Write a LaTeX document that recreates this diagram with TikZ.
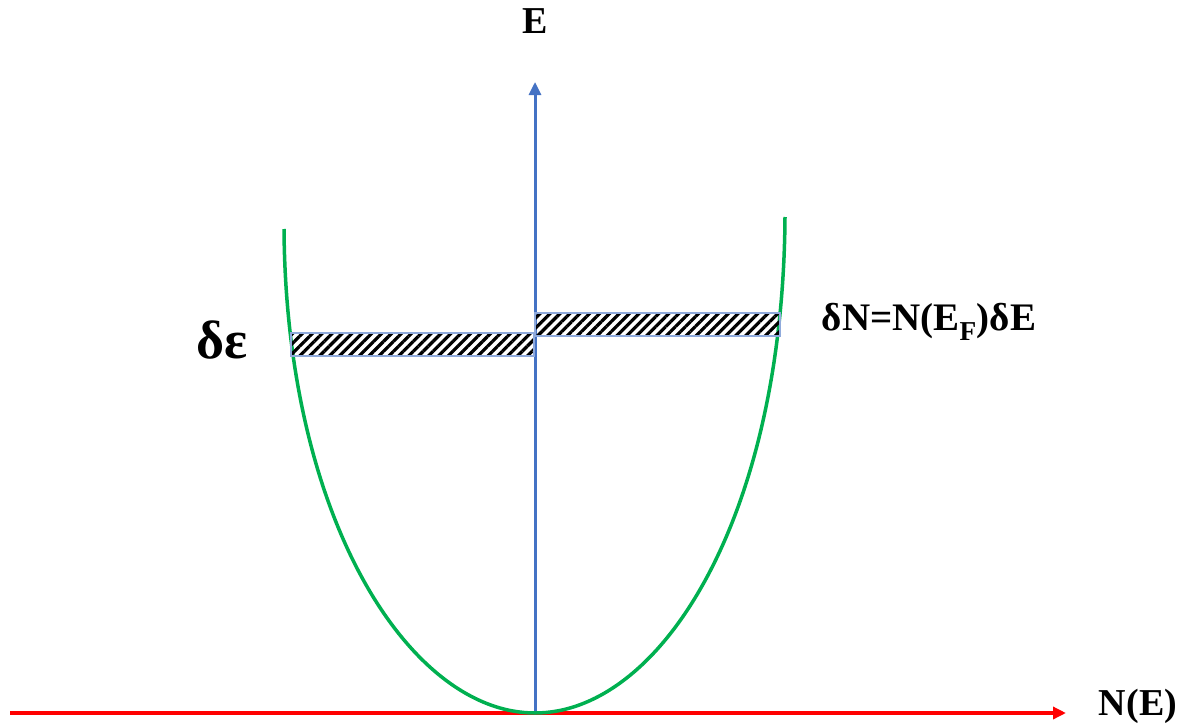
\documentclass[tikz,border=0pt]{standalone}
\usepackage{fontspec}
\setmainfont{Liberation Serif}
\usepackage{tikz}
\usetikzlibrary{arrows.meta,patterns.meta}
\definecolor{axisred}{HTML}{FF0000}
\definecolor{axisblue}{HTML}{4472C4}
\definecolor{curvegreen}{HTML}{00B050}
\definecolor{boxblue}{HTML}{8FAADC}
\begin{document}
\begin{tikzpicture}[x=1pt, y=-1pt,
  lbl/.style={font=\bfseries, inner sep=0pt},
  hatched/.style={draw=boxblue, line width=1.2pt,
                  pattern={Lines[angle=45, distance=7pt, line width=3.2pt]}, pattern color=black},
  >={Triangle[length=13pt, width=12pt]}
]
  \useasboundingbox (0,0) rectangle (1186,725);
  \coordinate (O)    at (535,713);
  \coordinate (xbeg) at (10,713);
  \coordinate (xend) at (1066,713);
  \coordinate (ytop) at (535,82);
  \node[lbl, font=\fontsize{38}{40}\selectfont\bfseries] (elab) at (535,21) {E};
  \node[lbl, font=\fontsize{38}{40}\selectfont\bfseries] (nlab) at (1138,706) {N(E)};
  \node[lbl, font=\fontsize{54}{58}\selectfont\bfseries] (de) at (222,340) {δε};
  \node[lbl, font=\fontsize{39}{42}\selectfont\bfseries] (dn) at (929,322) {δN=N(E$_{\mathbf{F}}$)δE};
  % axes
  \draw[axisred, line width=3.5pt, ->] (xbeg) -- (xend);
  \draw[axisblue, line width=3pt, ->] (O) -- (ytop);
  % density of states
  \draw[curvegreen, line width=3.5pt] (284,229) .. controls (286,520) and (410,713) .. (O)
                                      .. controls (660,713) and (783,520) .. (785,217);
  % shifted bands
  \draw[hatched] (291,333) rectangle (534,356);
  \draw[hatched] (535,313) rectangle (780,336);
\end{tikzpicture}
\end{document}
